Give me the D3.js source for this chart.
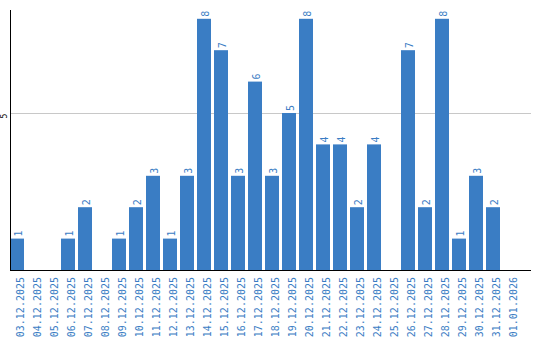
<!DOCTYPE html>
<html>
<head>
<meta charset="utf-8">
<script src="https://cdn.jsdelivr.net/npm/d3@7"></script>
<style>
  body { margin: 0; background: #fff; }
  text { font-family: "DejaVu Sans Mono", monospace; }
</style>
</head>
<body>
<div id="chart"></div>
<script>
// daily counts, 03.12.2025 - 01.01.2026
const dates = ["03.12.2025", "04.12.2025", "05.12.2025", "06.12.2025", "07.12.2025",
  "08.12.2025", "09.12.2025", "10.12.2025", "11.12.2025", "12.12.2025",
  "13.12.2025", "14.12.2025", "15.12.2025", "16.12.2025", "17.12.2025",
  "18.12.2025", "19.12.2025", "20.12.2025", "21.12.2025", "22.12.2025",
  "23.12.2025", "24.12.2025", "25.12.2025", "26.12.2025", "27.12.2025",
  "28.12.2025", "29.12.2025", "30.12.2025", "31.12.2025", "01.01.2026"];
const counts = [1, 0, 0, 1, 2, 0, 1, 2, 3, 1, 3, 8, 7, 3, 6, 3, 5, 8, 4, 4, 2, 4, 0, 7, 2, 8, 1, 3, 2, 0];
const yTicks = [5];

const width = 540;
const height = 340;
const barColor = "#3a7dc4";

const data = dates.map((d, i) => ({ date: d, count: counts[i] }));

const svg = d3.select("#chart")
  .append("svg")
  .attr("width", width)
  .attr("height", height);

// x: one 17px band per day, bar takes 14px of it
const x = d3.scaleBand()
  .domain(dates)
  .range([10, 520])
  .padding(0);
const barW = x.bandwidth() - 3;

const y = d3.scaleLinear()
  .domain([0, 8.28])
  .range([270, 10]);

// gridline
svg.selectAll("line.grid")
  .data(yTicks)
  .enter().append("line")
  .attr("class", "grid")
  .attr("x1", 11).attr("x2", 531)
  .attr("y1", d => Math.round(y(d)) + 0.5)
  .attr("y2", d => Math.round(y(d)) + 0.5)
  .attr("stroke", "#c8c8c8");

// y tick labels (rotated)
svg.selectAll("text.ytick")
  .data(yTicks)
  .enter().append("text")
  .attr("class", "ytick")
  .attr("transform", d => `translate(4,${y(d) + 3}) rotate(-90)`)
  .attr("text-anchor", "middle")
  .attr("dy", "0.35em")
  .style("font-size", "8px")
  .attr("fill", "#000")
  .text(d => d);

// bars
svg.selectAll("rect")
  .data(data)
  .enter().append("rect")
  .attr("x", d => x(d.date))
  .attr("y", d => y(d.count))
  .attr("width", barW)
  .attr("height", d => y(0) - y(d.count))
  .attr("fill", barColor);

// value labels on top of bars
svg.selectAll("text.val")
  .data(data.filter(d => d.count > 0))
  .enter().append("text")
  .attr("class", "val")
  .attr("transform", d => `translate(${x(d.date) + barW / 2 + 1},${y(d.count) - 2}) rotate(-90)`)
  .attr("text-anchor", "start")
  .attr("dy", "0.35em")
  .style("font-size", "10px")
  .attr("fill", barColor)
  .text(d => d.count);

// axes lines
svg.append("line")
  .attr("x1", 10.5).attr("x2", 10.5)
  .attr("y1", 10).attr("y2", 270)
  .attr("stroke", "#000");
svg.append("line")
  .attr("x1", 10).attr("x2", 531)
  .attr("y1", 270.5).attr("y2", 270.5)
  .attr("stroke", "#000");

// x labels (rotated, reading upward)
svg.selectAll("text.xlab")
  .data(dates)
  .enter().append("text")
  .attr("class", "xlab")
  .attr("transform", d => `translate(${x(d) + barW / 2 + 3},277) rotate(-90)`)
  .attr("text-anchor", "end")
  .attr("dy", "0.35em")
  .style("font-size", "10px")
  .attr("fill", barColor)
  .text(d => d);
</script>
</body>
</html>
